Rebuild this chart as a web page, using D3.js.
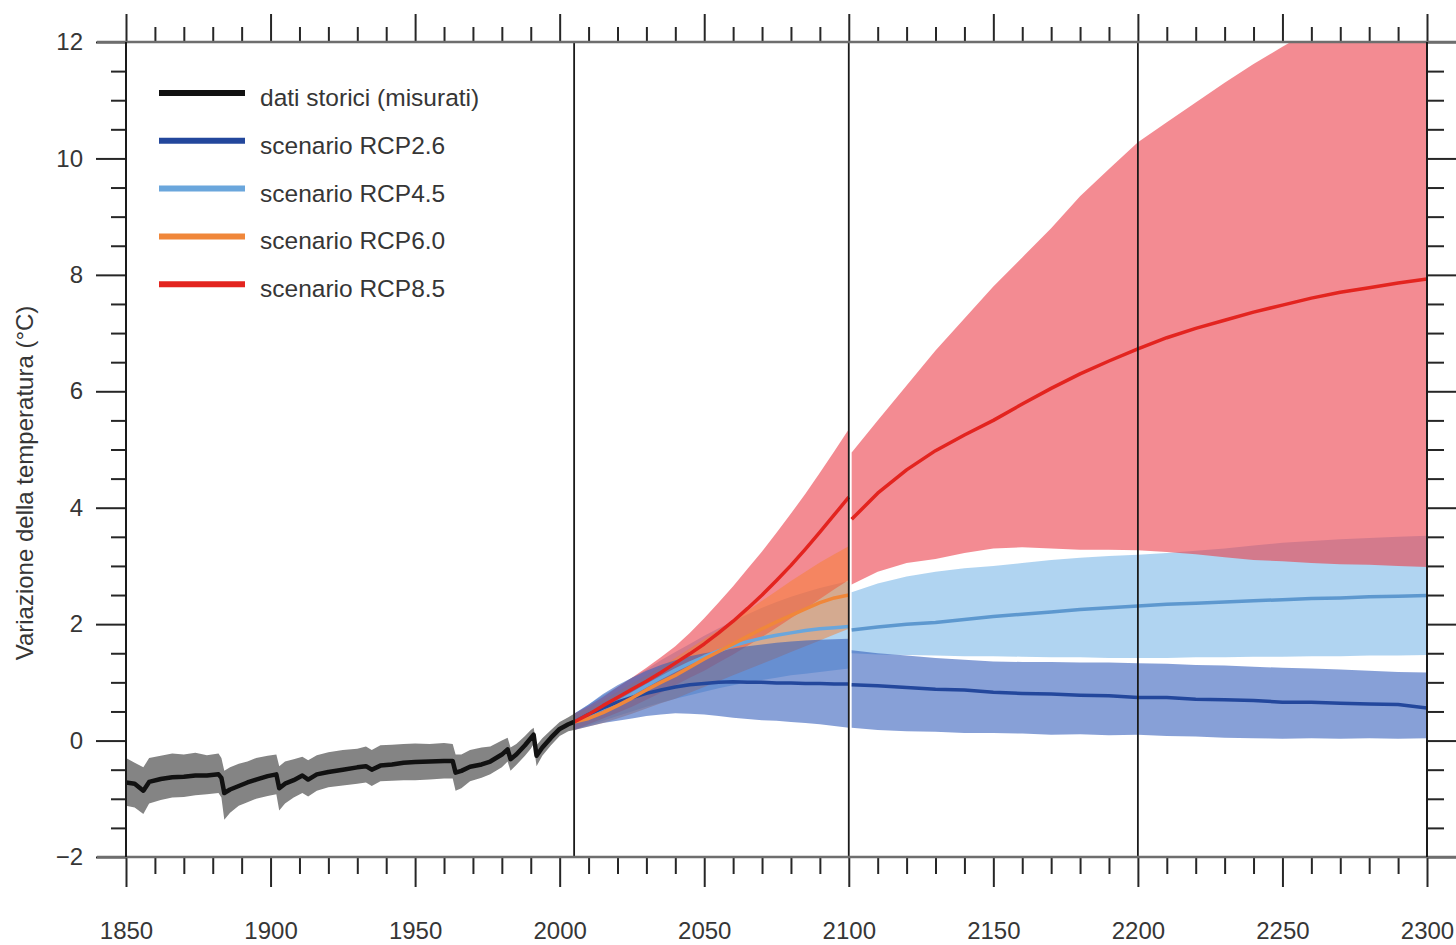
<!DOCTYPE html>
<html>
<head>
<meta charset="utf-8">
<script src="https://cdn.jsdelivr.net/npm/d3@7"></script>
<style>
  html, body { margin: 0; padding: 0; background: #ffffff; }
  svg text { font-family: "Liberation Sans", Arial, Helvetica, sans-serif; fill: #363636; }
</style>
</head>
<body>
<svg id="chart" width="1456" height="945"></svg>
<script>
// ---------- axis ticks ----------
const xTickLabels = [1850, 1900, 1950, 2000, 2050, 2100, 2150, 2200, 2250, 2300];
const xMinorTicks = [1860,1870,1880,1890,1910,1920,1930,1940,1960,1970,1980,1990,2010,2020,2030,2040,2060,2070,2080,2090,2110,2120,2130,2140,2160,2170,2180,2190,2210,2220,2230,2240,2260,2270,2280,2290];
const yTickLabels = [-2, 0, 2, 4, 6, 8, 10, 12];
const yMinorTicks = [-1.5,-1,-0.5,0.5,1,1.5,2.5,3,3.5,4.5,5,5.5,6.5,7,7.5,8.5,9,9.5,10.5,11,11.5];
const periodBreaks = [2005, 2100, 2200];

// ---------- observed record 1850-2005 ----------
const histYears = [1850,1853,1856,1858,1862,1866,1870,1874,1878,1882,1883,1884,1886,1889,1892,1895,1899,1902,1903,1905,1908,1911,1913,1916,1920,1925,1930,1933,1935,1938,1942,1946,1950,1955,1960,1963,1964,1966,1969,1973,1976,1980,1982,1983,1985,1988,1990,1991,1992,1994,1997,2000,2003,2005];
const histMean  = [-0.72,-0.74,-0.86,-0.71,-0.66,-0.63,-0.62,-0.60,-0.60,-0.58,-0.64,-0.90,-0.84,-0.78,-0.72,-0.67,-0.61,-0.58,-0.82,-0.74,-0.68,-0.60,-0.67,-0.58,-0.54,-0.50,-0.46,-0.44,-0.50,-0.43,-0.41,-0.38,-0.37,-0.36,-0.35,-0.35,-0.55,-0.52,-0.45,-0.41,-0.36,-0.24,-0.15,-0.32,-0.24,-0.08,0.04,0.10,-0.26,-0.12,0.05,0.20,0.28,0.32];
const histUpper = [-0.30,-0.38,-0.46,-0.30,-0.26,-0.22,-0.24,-0.21,-0.25,-0.22,-0.30,-0.52,-0.46,-0.40,-0.36,-0.30,-0.26,-0.24,-0.44,-0.36,-0.32,-0.28,-0.34,-0.25,-0.20,-0.16,-0.14,-0.10,-0.16,-0.08,-0.07,-0.06,-0.05,-0.06,-0.04,-0.06,-0.24,-0.24,-0.16,-0.12,-0.10,0.00,0.05,-0.12,-0.06,0.08,0.18,0.22,-0.08,0.04,0.18,0.32,0.40,0.46];
const histLower = [-1.12,-1.15,-1.26,-1.08,-1.02,-0.98,-0.97,-0.94,-0.92,-0.90,-0.98,-1.36,-1.24,-1.12,-1.06,-1.00,-0.95,-0.92,-1.20,-1.08,-0.98,-0.90,-0.96,-0.86,-0.80,-0.77,-0.74,-0.72,-0.78,-0.70,-0.69,-0.68,-0.68,-0.67,-0.65,-0.65,-0.86,-0.82,-0.70,-0.64,-0.58,-0.46,-0.36,-0.52,-0.42,-0.26,-0.14,-0.06,-0.44,-0.26,-0.08,0.08,0.16,0.18];

// ---------- projections 2005-2100 ----------
const preYears = [2005,2010,2015,2020,2025,2030,2035,2040,2045,2050,2055,2060,2065,2070,2075,2080,2085,2090,2095,2100];
const rcp26PreMean = [0.32,0.45,0.56,0.66,0.74,0.81,0.87,0.92,0.96,0.98,1.00,1.01,1.00,1.00,0.99,0.99,0.98,0.98,0.97,0.97];
const rcp26PreLo   = [0.18,0.24,0.30,0.34,0.38,0.42,0.45,0.47,0.46,0.45,0.42,0.39,0.37,0.35,0.34,0.32,0.30,0.28,0.25,0.22];
const rcp26PreHi   = [0.46,0.62,0.80,0.95,1.08,1.20,1.30,1.38,1.45,1.50,1.54,1.58,1.62,1.65,1.68,1.70,1.72,1.73,1.74,1.75];
const rcp45PreMean = [0.32,0.44,0.55,0.66,0.80,0.94,1.08,1.21,1.33,1.44,1.54,1.63,1.70,1.76,1.81,1.85,1.89,1.92,1.94,1.96];
const rcp45PreLo   = [0.18,0.26,0.34,0.42,0.50,0.58,0.65,0.72,0.78,0.84,0.90,0.95,1.00,1.04,1.08,1.12,1.15,1.18,1.21,1.24];
const rcp45PreHi   = [0.46,0.62,0.78,0.92,1.08,1.22,1.38,1.52,1.66,1.80,1.93,2.05,2.17,2.28,2.38,2.47,2.55,2.62,2.68,2.74];
const rcp60PreMean = [0.32,0.38,0.48,0.60,0.73,0.87,1.00,1.12,1.26,1.40,1.53,1.66,1.79,1.92,2.04,2.15,2.26,2.37,2.45,2.50];
const rcp60PreLo   = [0.18,0.24,0.30,0.38,0.46,0.55,0.64,0.72,0.82,0.92,1.02,1.12,1.22,1.32,1.42,1.52,1.62,1.72,1.82,1.92];
const rcp60PreHi   = [0.46,0.56,0.70,0.84,0.98,1.12,1.27,1.42,1.58,1.74,1.90,2.06,2.23,2.40,2.57,2.74,2.90,3.06,3.20,3.34];
const rcp85PreMean = [0.32,0.45,0.60,0.74,0.88,1.02,1.17,1.33,1.49,1.66,1.85,2.05,2.27,2.50,2.75,3.01,3.29,3.58,3.88,4.18];
const rcp85PreLo   = [0.18,0.28,0.38,0.48,0.58,0.70,0.82,0.95,1.08,1.20,1.34,1.48,1.63,1.78,1.94,2.10,2.26,2.43,2.60,2.76];
const rcp85PreHi   = [0.46,0.60,0.75,0.92,1.08,1.25,1.43,1.62,1.85,2.10,2.37,2.65,2.95,3.25,3.57,3.90,4.24,4.60,4.97,5.35];

// ---------- extensions 2101-2300 ----------
const postYears = [2101,2110,2120,2130,2140,2150,2160,2170,2180,2190,2200,2210,2220,2230,2240,2250,2260,2270,2280,2290,2300];
const rcp26PostMean = [0.96,0.94,0.91,0.88,0.87,0.83,0.81,0.80,0.78,0.77,0.74,0.74,0.71,0.70,0.69,0.66,0.66,0.64,0.63,0.62,0.56];
const rcp26PostLo   = [0.22,0.18,0.16,0.15,0.13,0.13,0.12,0.10,0.11,0.09,0.10,0.08,0.07,0.05,0.04,0.03,0.04,0.03,0.04,0.03,0.04];
const rcp26PostHi   = [1.55,1.50,1.46,1.42,1.39,1.36,1.35,1.35,1.34,1.34,1.33,1.32,1.30,1.29,1.27,1.25,1.24,1.22,1.20,1.18,1.17];
const rcp45PostMean = [1.90,1.95,2.00,2.03,2.08,2.13,2.17,2.21,2.25,2.28,2.31,2.34,2.36,2.38,2.40,2.42,2.44,2.45,2.47,2.48,2.49];
const rcp45PostLo   = [1.50,1.48,1.47,1.46,1.45,1.45,1.44,1.43,1.43,1.42,1.42,1.42,1.43,1.43,1.44,1.44,1.45,1.45,1.46,1.46,1.47];
const rcp45PostHi   = [2.55,2.70,2.82,2.90,2.96,3.00,3.05,3.10,3.14,3.17,3.19,3.22,3.26,3.30,3.35,3.40,3.43,3.46,3.48,3.50,3.52];
const rcp85PostMean = [3.80,4.25,4.65,4.98,5.25,5.50,5.78,6.05,6.30,6.52,6.73,6.92,7.08,7.22,7.36,7.48,7.60,7.70,7.78,7.86,7.93];
const rcp85PostLo   = [2.68,2.90,3.05,3.12,3.22,3.30,3.32,3.30,3.28,3.28,3.27,3.24,3.20,3.15,3.10,3.08,3.05,3.03,3.02,3.00,2.98];
const rcp85PostHi   = [4.95,5.50,6.10,6.70,7.25,7.80,8.30,8.80,9.35,9.82,10.28,10.62,10.96,11.30,11.62,11.92,12.20,12.50,12.80,13.05,13.30];

// ---------- legend ----------
const legendLabels = ["dati storici (misurati)", "scenario RCP2.6", "scenario RCP4.5", "scenario RCP6.0", "scenario RCP8.5"];
const legendColors = ["#111111", "#23479c", "#6aa6dc", "#f0873a", "#e3241f"];

// ---------- drawing ----------
const svg = d3.select("#chart");
const W = 1456, H = 945;
const x = d3.scaleLinear().domain([1850, 2300]).range([126, 1427]);
const y = d3.scaleLinear().domain([-2, 12]).range([857, 42]);

svg.append("defs").append("clipPath").attr("id", "plotClip")
  .append("rect")
  .attr("x", x(1850)).attr("y", y(12))
  .attr("width", x(2300) - x(1850)).attr("height", y(-2) - y(12));

const zip = (xs, lo, hi) => xs.map((t, i) => ({ t, lo: lo[i], hi: hi[i] }));
const pts = (xs, vs) => xs.map((t, i) => ({ t, v: vs[i] }));

const area = d3.area().x(d => x(d.t)).y0(d => y(d.lo)).y1(d => y(d.hi)).curve(d3.curveLinear);
const line = d3.line().x(d => x(d.t)).y(d => y(d.v)).curve(d3.curveLinear);

const plot = svg.append("g").attr("clip-path", "url(#plotClip)");

// uncertainty ranges (semi-transparent so overlaps blend)
const bands = [
  { data: zip(histYears, histLower, histUpper), fill: "rgb(132,132,132)", op: 1 },
  { data: zip(preYears, rcp45PreLo, rcp45PreHi), fill: "rgb(123,183,232)", op: 0.6 },
  { data: zip(postYears, rcp45PostLo, rcp45PostHi), fill: "rgb(123,183,232)", op: 0.6 },
  { data: zip(preYears, rcp85PreLo, rcp85PreHi), fill: "rgb(235,62,73)", op: 0.6 },
  { data: zip(postYears, rcp85PostLo, rcp85PostHi), fill: "rgb(235,62,73)", op: 0.6 },
  { data: zip(preYears, rcp60PreLo, rcp60PreHi), fill: "rgb(248,128,48)", op: 0.5 },
  { data: zip(preYears, rcp26PreLo, rcp26PreHi), fill: "rgb(55,97,188)", op: 0.6 },
  { data: zip(postYears, rcp26PostLo, rcp26PostHi), fill: "rgb(55,97,188)", op: 0.6 }
];
plot.selectAll("path.band").data(bands).join("path")
  .attr("class", "band")
  .attr("d", d => area(d.data))
  .attr("fill", d => d.fill)
  .attr("fill-opacity", d => d.op)
  .attr("stroke", "none");

// period separators
svg.selectAll("line.sep").data(periodBreaks).join("line")
  .attr("class", "sep")
  .attr("x1", d => x(d)).attr("x2", d => x(d))
  .attr("y1", y(12)).attr("y2", y(-2))
  .attr("stroke", "#1a1a1a").attr("stroke-width", 1.8);

// mean curves
const means = [
  { data: pts(preYears, rcp45PreMean), color: legendColors[2], w: 3.5 },
  { data: pts(postYears, rcp45PostMean), color: "#5d98cf", w: 3.5 },
  { data: pts(preYears, rcp26PreMean), color: legendColors[1], w: 3.5 },
  { data: pts(postYears, rcp26PostMean), color: legendColors[1], w: 3.5 },
  { data: pts(preYears, rcp60PreMean), color: legendColors[3], w: 3.5 },
  { data: pts(preYears, rcp85PreMean), color: legendColors[4], w: 3.5 },
  { data: pts(postYears, rcp85PostMean), color: legendColors[4], w: 3.5 },
  { data: pts(histYears, histMean), color: legendColors[0], w: 4.5 }
];
plot.selectAll("path.mean").data(means).join("path")
  .attr("class", "mean")
  .attr("d", d => line(d.data))
  .attr("fill", "none")
  .attr("stroke", d => d.color)
  .attr("stroke-width", d => d.w)
  .attr("stroke-linejoin", "round")
  .attr("stroke-linecap", "butt");

// ---------- axes ----------
const tickColor = "#262626";
function styleAxis(g) {
  g.select(".domain").remove();
  g.selectAll(".tick line").attr("stroke", tickColor).attr("stroke-width", 2);
  g.selectAll(".tick text")
    .attr("font-family", "'Liberation Sans', Arial, Helvetica, sans-serif")
    .attr("font-size", 24)
    .attr("fill", "#363636");
  g.attr("font-family", null).attr("font-size", null);
}
const fmtNum = d => (d < 0 ? "\u2212" + Math.abs(d) : String(d));

// bottom
svg.append("g").attr("transform", `translate(0,${y(-2)})`)
  .call(d3.axisBottom(x).tickValues(xTickLabels).tickSize(30).tickPadding(35).tickFormat(d3.format("d")))
  .call(styleAxis);
svg.append("g").attr("transform", `translate(0,${y(-2)})`)
  .call(d3.axisBottom(x).tickValues(xMinorTicks).tickSize(17).tickFormat(""))
  .call(styleAxis);
// top
svg.append("g").attr("transform", `translate(0,${y(12)})`)
  .call(d3.axisTop(x).tickValues(xTickLabels).tickSize(28).tickFormat(""))
  .call(styleAxis);
svg.append("g").attr("transform", `translate(0,${y(12)})`)
  .call(d3.axisTop(x).tickValues(xMinorTicks).tickSize(15).tickFormat(""))
  .call(styleAxis);
// left
svg.append("g").attr("transform", `translate(${x(1850)},0)`)
  .call(d3.axisLeft(y).tickValues(yTickLabels).tickSize(30).tickPadding(13).tickFormat(fmtNum))
  .call(styleAxis);
svg.append("g").attr("transform", `translate(${x(1850)},0)`)
  .call(d3.axisLeft(y).tickValues(yMinorTicks).tickSize(15).tickFormat(""))
  .call(styleAxis);
// right
svg.append("g").attr("transform", `translate(${x(2300)},0)`)
  .call(d3.axisRight(y).tickValues(yTickLabels).tickSize(29).tickFormat(""))
  .call(styleAxis);
svg.append("g").attr("transform", `translate(${x(2300)},0)`)
  .call(d3.axisRight(y).tickValues(yMinorTicks).tickSize(17).tickFormat(""))
  .call(styleAxis);

// frame: grey horizontal rules, dark vertical sides
[y(12), y(-2)].forEach(yy => {
  svg.append("line").attr("x1", 97).attr("x2", W).attr("y1", yy).attr("y2", yy)
    .attr("stroke", "#6e6e6e").attr("stroke-width", 2.6);
});
[x(1850), x(2300)].forEach(xx => {
  svg.append("line").attr("x1", xx).attr("x2", xx).attr("y1", y(12)).attr("y2", y(-2))
    .attr("stroke", "#1a1a1a").attr("stroke-width", 2);
});

// y-axis title
svg.append("text")
  .attr("transform", `translate(24,483) rotate(-90)`)
  .attr("text-anchor", "middle")
  .attr("dominant-baseline", "central")
  .attr("font-size", 24)
  .text("Variazione della temperatura (\u00B0C)");

// legend
const legend = svg.append("g").attr("transform", "translate(159,93)");
const rows = legend.selectAll("g").data(legendLabels).join("g")
  .attr("transform", (d, i) => `translate(0,${i * 47.8})`);
rows.append("line")
  .attr("x1", 0).attr("x2", 86).attr("y1", 0).attr("y2", 0)
  .attr("stroke", (d, i) => legendColors[i]).attr("stroke-width", 6);
rows.append("text")
  .attr("x", 101).attr("y", 13)
  .attr("font-size", 24.5)
  .text(d => d);
</script>
</body>
</html>
